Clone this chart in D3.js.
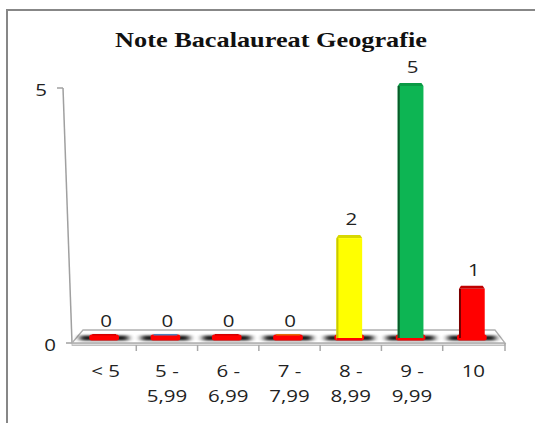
<!DOCTYPE html>
<html><head><meta charset="utf-8">
<script src="https://cdn.jsdelivr.net/npm/d3@7"></script>
<style>html,body{margin:0;padding:0;background:#fff;}svg{display:block;}</style>
</head><body>
<script>
const title = "Note Bacalaureat Geografie";
const categories = ["< 5", "5 - 5,99", "6 - 6,99", "7 - 7,99", "8 - 8,99", "9 - 9,99", "10"];
const categoryLines = [["< 5"], ["5 -", "5,99"], ["6 -", "6,99"], ["7 -", "7,99"], ["8 -", "8,99"], ["9 -", "9,99"], ["10"]];
const values = [0, 0, 0, 0, 2, 5, 1];
const yTicks = [0, 5];
const colors = ["#ff0000", "#ff0000", "#ff0000", "#ff0000", "#ffff00", "#0db553", "#ff0000"];
const topColors = ["#d40000", "#4f81bd", "#d40000", "#e36c0a", "#d8d800", "#0a9a45", "#c00000"];
const sideColors = ["#900000", "#900000", "#900000", "#900000", "#c8c800", "#0a5a2a", "#7a0000"];

const W = 535, H = 423;
const svg = d3.select("body").append("svg").attr("width", W).attr("height", H);
const defs = svg.append("defs");
defs.append("filter").attr("id", "blur").attr("x", "-50%").attr("y", "-200%").attr("width", "200%").attr("height", "500%")
  .append("feGaussianBlur").attr("stdDeviation", "3 1.2");

// frame
svg.append("rect").attr("x", 7).attr("y", 10).attr("width", 560).attr("height", 440)
  .attr("fill", "#fff").attr("stroke", "#878787").attr("stroke-width", 2);

const SX = 1.28;
const font = "'Open Sans', sans-serif";
function stretchedText(g, x, y, txt, size, fill) {
  return g.append("text").attr("transform", `translate(${x},${y}) scale(${SX},1)`)
    .attr("text-anchor", "middle").attr("font-family", font).attr("font-size", size)
    .attr("fill", fill || "#222").text(txt);
}

// title
svg.append("text").attr("x", 271).attr("y", 46.5).attr("text-anchor", "middle")
  .attr("font-family", "'Liberation Serif', 'Times New Roman', serif").attr("font-weight", "bold")
  .attr("font-size", 21).attr("textLength", 312).attr("lengthAdjust", "spacingAndGlyphs")
  .attr("fill", "#111").text(title);

// scales
const x = d3.scaleBand().domain(categories).range([75, 504]).padding(0);
const yAxisScale = d3.scaleLinear().domain([0, 5]).range([343, 88]);
const yBar = d3.scaleLinear().domain([0, 5]).range([339.5, 86]);
const axisX = y => 63 + (y - 88) * (9 / 255);

// y axis
svg.append("line").attr("x1", axisX(yAxisScale(5))).attr("y1", yAxisScale(5))
  .attr("x2", axisX(yAxisScale(0))).attr("y2", yAxisScale(0))
  .attr("stroke", "#a0a0a0").attr("stroke-width", 1.5);
yTicks.forEach(t => {
  const yy = yAxisScale(t), xx = axisX(yy);
  svg.append("line").attr("x1", xx - 6).attr("x2", xx + (t === 0 ? 3 : 0)).attr("y1", yy).attr("y2", yy)
    .attr("stroke", "#a0a0a0").attr("stroke-width", 1.5);
  stretchedText(svg, xx - 22, yy + 8, String(t), 16, "#222");
});

// floor
const x0 = x.range()[0], x1 = x.range()[1];
svg.append("rect").attr("x", x0 - 3).attr("y", 343).attr("width", x1 - x0 + 4).attr("height", 2.5)
  .attr("fill", "#dcdcdc").attr("stroke", "#b5b5b5").attr("stroke-width", 0.8);
svg.append("polygon")
  .attr("points", [[x0 - 3, 343], [x0 + 8, 330], [x1 - 9, 330], [x1 + 1, 343]].map(p => p.join(",")).join(" "))
  .attr("fill", "#fff").attr("stroke", "#b0b0b0").attr("stroke-width", 1.3);
svg.append("line").attr("x1", x1 + 1).attr("x2", x1 + 1).attr("y1", 343).attr("y2", 351)
  .attr("stroke", "#a8a8a8").attr("stroke-width", 1.5);
categories.slice(1).forEach(c => {
  svg.append("line").attr("x1", x(c)).attr("x2", x(c)).attr("y1", 345).attr("y2", 351)
    .attr("stroke", "#a8a8a8").attr("stroke-width", 1.5);
});

// bars
const bw = x.step() * 0.42;
const g = svg.append("g");
categories.forEach((c, i) => {
  const cx = x(c) + x.step() / 2 - 1.5;
  const v = values[i];
  // shadow
  g.append("rect").attr("x", cx - 24).attr("y", 335.5).attr("width", 48).attr("height", 5)
    .attr("fill", "#000").attr("opacity", 0.9).attr("filter", "url(#blur)");
  // red base blob
  g.append("rect").attr("x", cx - bw / 2 - 2).attr("y", 334.5).attr("width", bw + 4).attr("height", 6)
    .attr("rx", 2.5).attr("fill", "#ff0000");
  if (v === 0) {
    g.append("rect").attr("x", cx - bw / 2 + 1).attr("y", 334).attr("width", bw - 2).attr("height", 1.5)
      .attr("fill", topColors[i]);
  } else {
    const top = yBar(v), bot = yBar(0);
    g.append("rect").attr("x", cx - bw / 2).attr("y", top).attr("width", bw).attr("height", bot - top)
      .attr("fill", colors[i]);
    g.append("rect").attr("x", cx - bw / 2).attr("y", top).attr("width", 2).attr("height", bot - top)
      .attr("fill", sideColors[i]);
    g.append("polygon").attr("points", [[cx - bw / 2, top], [cx - bw / 2 + 2, top - 3], [cx + bw / 2 - 2, top - 3], [cx + bw / 2, top]]
      .map(p => p.join(",")).join(" ")).attr("fill", topColors[i]);
    g.append("rect").attr("x", cx - bw / 2).attr("y", bot - 1.5).attr("width", bw).attr("height", 2).attr("fill", "#ff0000");
  }
  // value label
  stretchedText(svg, cx + 2, yBar(v) - 13, String(v), 16, "#222");
  // category labels
  categoryLines[i].forEach((ln, j) => {
    stretchedText(svg, x(c) + x.step() / 2, 377 + j * 25, ln, 16, "#222");
  });
});
</script>
</body></html>
